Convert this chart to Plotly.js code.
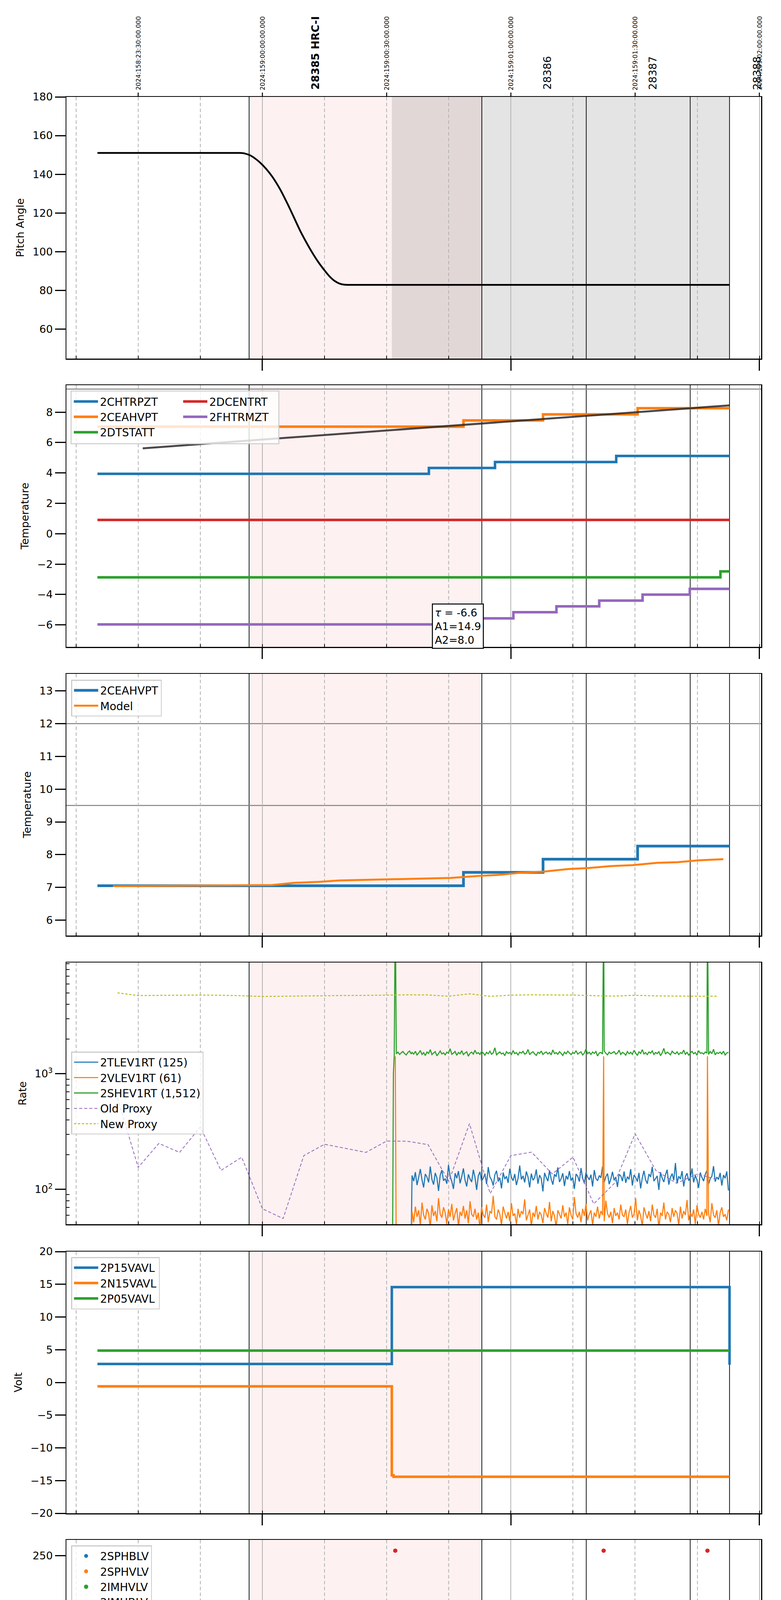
<!DOCTYPE html>
<html><head><meta charset="utf-8">
<script src="https://cdn.plot.ly/plotly-3.0.1.min.js"></script>
<style>html,body{margin:0;padding:0;background:#fff}#chart{width:2000px;height:6200px}</style>
</head><body><div id="chart"></div>
<script>
// ================= DATA (local time 2024-06-07, EDT) =================
const DAY = '2024-06-07 ';
const xRange = ['19:12:40', '22:00:25'];
const obsBoundaries = ['19:56:47', '20:52:59', '21:18:12', '21:43:18', '21:52:48'];
const pinkSpan = ['19:56:47', '20:52:59'];
const graySpan = ['20:31:15', '21:52:48'];
const obsLabels = ['<b>28385 HRC-I</b>', '28386', '28387', '28388'];
const obsLabelTimes = ['20:12:42', '21:08:42', '21:34:12', '21:59:24'];
const topTickTimes = ['19:30:00', '20:00:00', '20:30:00', '21:00:00', '21:30:00', '22:00:00'];
const topTickText = ['2024:158:23:30:00.000', '2024:159:00:00:00.000', '2024:159:00:30:00.000',
  '2024:159:01:00:00.000', '2024:159:01:30:00.000', '2024:159:02:00:00.000'];
const hourTicks = ['20:00:00', '21:00:00', '22:00:00'];
const hourText = ['20h', '21h', '22h'];
const minorLabelTimes = ['19:15:00', '19:30:00', '19:45:00', '20:15:00', '20:30:00', '20:45:00', '21:15:00', '21:30:00', '21:45:00'];
const minorLabelText = ['15', '30', '45', '15', '30', '45', '15', '30', '45'];
const xTitle = '2024-06-07 (159)';

// Panel 1: pitch angle
const pitchTime = ['19:20:10', '19:40:00', '19:52:00', '19:54:36', '19:55:48', '19:57:00', '19:58:12', '19:59:24', '20:00:54', '20:02:24', '20:04:12',
  '20:06:00', '20:07:30', '20:09:00', '20:10:30', '20:12:00', '20:13:30', '20:15:00', '20:16:12', '20:17:24', '20:18:36', '20:19:48',
  '20:25:00', '20:40:00', '21:52:48'];
const pitchVal = [151.0, 151.0, 151.0, 151.0, 150.7, 149.8, 148.2, 146.1, 142.8, 138.7, 132.5, 125.0, 118.2, 111.3, 105.2, 99.6, 94.6, 90.3,
  87.2, 84.9, 83.5, 82.9, 82.8, 82.8, 82.8];

// Panel 2: temperatures (step series)
const chtrpztTime = ['19:20:10', '20:40:12', '20:56:10', '21:25:26', '21:52:48'];
const chtrpztVal = [3.94, 4.33, 4.72, 5.12, 5.12];
const ceahvptTime = ['19:20:10', '20:48:33', '21:07:46', '21:30:36', '21:52:48'];
const ceahvptVal = [7.05, 7.46, 7.86, 8.26, 8.26];
const dtstattTime = ['19:20:10', '21:50:36', '21:52:48'];
const dtstattVal = [-2.87, -2.48, -2.48];
const dcentrtTime = ['19:20:10', '21:52:48'];
const dcentrtVal = [0.91, 0.91];
const fhtrmztTime = ['19:20:10', '20:50:06', '21:00:36', '21:11:00', '21:21:20', '21:31:48', '21:43:12', '21:52:48'];
const fhtrmztVal = [-5.97, -5.57, -5.17, -4.78, -4.40, -4.01, -3.63, -3.63];
const trendTime = ['19:31:06', '21:52:48'];
const trendVal = [5.62, 8.45];
const panel2Limit = 9.52;
const fitText = '<i>τ</i> = -6.6<br>A1=14.9<br>A2=8.0';

// Panel 3: 2CEAHVPT and model
const panel3Limits = [12.0, 9.5];
const modelTime = ['19:23:54', '19:56:54', '20:02:18', '20:07:42', '20:13:42', '20:18:30', '20:24:30', '20:30:30', '20:38:54', '20:45:30',
  '20:52:12', '20:57:00', '21:02:24', '21:07:48', '21:13:48', '21:18:36', '21:24:00', '21:29:24', '21:35:24', '21:40:12', '21:45:36', '21:51:18'];
const modelVal = [7.04, 7.06, 7.07, 7.14, 7.17, 7.21, 7.23, 7.25, 7.27, 7.29, 7.35, 7.38, 7.45, 7.48, 7.56, 7.59, 7.65, 7.68, 7.75, 7.77, 7.83, 7.86];

// Panel 4: rates (band sampled every 24 s from 20:36:08)
const rateBandStart = '20:36:08', rateBandStep = 24;
const tlevBand = [
  132,118,141,109,127,150,121,104,136,128,115,158,122,110,139,126,
  97,133,147,119,124,112,163,130,117,101,138,125,144,113,129,152,
  120,106,135,123,116,148,127,99,131,142,118,125,137,111,156,128,
  121,108,134,145,117,126,102,140,123,130,114,151,127,119,136,109,
  125,161,122,131,115,143,128,104,137,120,126,149,112,133,124,96,
  139,127,118,146,123,110,135,129,155,116,124,138,107,131,122,144,
  119,127,101,136,130,117,153,125,113,140,128,121,134,106,147,124,
  119,132,126,158,115,129,137,111,123,142,120,128,105,135,131,118,
  143,114,129,122,150,108,133,127,117,139,102,126,145,121,112,136,
  128,157,118,124,131,99,141,125,116,134,148,110,127,137,120,169,
  113,130,123,144,106,129,138,119,126,152,115,132,121,103,140,127,
  118,135,146,111,124,130,159,117,128,122,139,108,133,125,143,98];
const vlevBand = [
  64,52,71,58,66,49,77,60,55,68,62,47,73,59,65,53,
  84,61,57,70,63,50,67,58,75,54,62,69,48,64,59,72,
  56,66,51,79,61,58,68,55,63,46,70,60,57,74,52,65,
  62,88,58,55,67,61,49,71,63,56,64,53,76,59,62,50,
  68,57,65,61,82,54,60,67,48,63,58,72,55,64,60,51,
  69,62,57,78,53,65,59,47,66,61,56,73,58,63,50,70,
  60,55,86,62,57,64,52,68,59,75,54,61,66,49,63,58,
  71,56,65,60,53,80,62,57,64,51,69,59,63,55,74,60,
  58,67,50,63,72,57,61,84,54,66,59,48,70,62,56,65,
  53,74,60,57,68,46,63,59,77,55,64,61,52,69,58,66,
  62,49,71,56,65,60,81,54,63,58,67,50,73,61,57,64,
  55,68,59,62,52,76,60,57,66,48,63,70,58,61,54,67];
const shevBand = [
  1530,1480,1565,1455,1510,1590,1470,1525,1440,1545,1500,1620,1465,1515,1555,1430,
  1495,1575,1485,1520,1460,1540,1505,1650,1475,1510,1560,1445,1530,1490,1585,1465,
  1515,1550,1420,1505,1540,1480,1600,1495,1525,1470,1560,1510,1450,1535,1490,1570,
  1475,1520,1680,1460,1505,1545,1485,1515,1435,1555,1500,1530,1470,1590,1495,1525,
  1455,1540,1510,1565,1480,1505,1625,1465,1520,1550,1490,1445,1535,1500,1575,1470,
  1515,1545,1485,1530,1460,1610,1495,1525,1475,1555,1505,1440,1540,1490,1570,1515,
  1465,1530,1500,1585,1480,1520,1550,1455,1510,1640,1490,1535,1470,1545,1500,1560,
  1425,1515,1530,1485,1575,1505,1460,1540,1495,1525,1555,1480,1510,1600,1470,1530,
  1505,1450,1560,1490,1535,1475,1595,1515,1440,1550,1500,1620,1485,1525,1465,1545,
  1510,1580,1470,1530,1495,1555,1435,1520,1660,1480,1540,1505,1460,1570,1515,1490,
  1550,1465,1525,1500,1605,1475,1535,1450,1515,1565,1490,1530,1445,1585,1505,1520,
  1480,1545,1510,1470,1560,1495,1630,1460,1525,1500,1540,1485,1570,1455,1515,1535];
const tlevPreTime = ['20:35:50'];
const tlevPreVal = [20];
const vlevPreTime = ['20:32:05', '20:32:20', '20:35:50'];
const vlevPreVal = [1416, 20, 20];
const vlevSpikeTime = ['21:22:24', '21:47:28'];
const vlevSpikeVal = [1416, 1416];
const shevPreTime = ['20:31:24', '20:31:38', '20:31:50', '20:32:05', '20:32:20', '20:32:44', '20:33:08', '20:33:32', '20:33:56', '20:34:20', '20:34:44', '20:35:08', '20:35:32', '20:35:56'];
const shevPreVal = [20, 1000, 1450, 30000, 1490, 1540, 1470, 1520, 1560, 1495, 1455, 1530, 1575, 1485];
const shevSpikeTime = ['21:22:24', '21:47:28'];
const shevSpikeVal = [30000, 30000];
const proxyTime = ['19:25:00','19:30:00','19:35:00','19:40:00','19:45:00','19:50:00','19:55:00','20:00:00','20:05:00','20:10:00',
  '20:15:00','20:20:00','20:25:00','20:30:00','20:35:00','20:40:00','20:45:00','20:50:00','20:55:00','21:00:00',
  '21:05:00','21:10:00','21:15:00','21:20:00','21:25:00','21:30:00','21:35:00','21:40:00','21:45:00','21:50:00'];
const oldProxy = [620,155,250,209,347,146,190,68,56,196,246,227,209,262,261,244,117,371,92,196,210,136,190,75,113,303,146,113,136,121];
const newProxy = [5018,4751,4770,4786,4800,4780,4740,4665,4690,4720,4750,4760,4770,4800,4821,4810,4690,4920,4680,4790,
  4821,4810,4800,4740,4700,4780,4720,4700,4700,4690];

// Panel 5: voltages
const p15Time = ['19:20:10', '20:31:15', '21:52:36', '21:52:48'];
const p15Val = [2.82, 14.56, 14.56, 2.7];
const n15Time = ['19:20:10', '20:31:15', '20:31:40', '21:52:48'];
const n15Val = [-0.59, -14.2, -14.42, -14.42];
const p05Time = ['19:20:10', '21:52:48'];
const p05Val = [4.87, 4.87];

// Panel 6: HV monitor (band sampled every 32 s from 20:36:24)
const hvBandStart = '20:36:24', hvBandStep = 32;
const sphblvTime = [], sphblvVal = [];
const sphvlvTime = [], sphvlvVal = [];
const imhvlvBand = [
  79,79,79,79,79,79,79,79,79,79,79,79, 79,79,79,79,79,79,79,79,79,79,79,79,
  79,79,79,79,79,79,79,79,79,79,79,79, 79,79,79,79,79,79,79,79,79,79,79,79,
  79,79,79,79,79,79,79,79,79,79,79,79, 79,79,79,79,79,79,79,79,79,79,79,79,
  79,79,79,79,79,79,79,79,79,79,79,79, 79,79,79,79,79,79,79,79,79,79,79,79,
  79,79,79,79,79,79,79,79,79,79,79,79, 79,79,79,79,79,79,79,79,79,79,79,79,
  79,79,79,79,79,79,79,79,79,79,79,79, 79,79,79,79,79,79,79,79,79,79,79,79];
const imhblvBand = [
  86,86,86,86,86,86,86,86,86,86,86,86, 86,86,86,86,86,86,86,86,86,86,86,86,
  86,86,86,86,86,86,86,86,86,86,86,86, 86,86,86,86,86,86,86,86,86,86,86,86,
  86,86,86,86,86,86,86,86,86,86,86,86, 86,86,86,86,86,86,86,86,86,86,86,86,
  86,86,86,86,86,86,86,86,86,86,86,86, 86,86,86,86,86,86,86,86,86,86,86,86,
  86,86,86,86,86,86,86,86,86,86,86,86, 86,86,86,86,86,86,86,86,86,86,86,86,
  86,86,86,86,86,86,86,86,86,86,86,86, 86,86,86,86,86,86,86,86,86,86,86,86];
const imhvlvDecayTime = ['20:32:48', '20:33:10', '20:33:32', '20:33:54', '20:34:15', '20:34:36', '20:34:58', '20:35:20', '20:35:41', '20:36:10'];
const imhvlvDecayVal = [100, 97, 95, 92, 90, 88, 86, 84, 82, 79];
const imhblvDecayTime = ['20:32:05', '20:32:34', '20:32:41', '20:33:03', '20:33:17', '20:33:31', '20:33:46', '20:34:04', '20:34:22', '20:34:44', '20:35:05', '20:35:23', '20:35:41', '20:36:02', '21:22:24', '21:47:28'];
const imhblvDecayVal = [255, 127, 119, 105, 106, 103, 101, 99, 97, 95, 93, 91, 89, 87, 255, 255];
const hvSwapTime = ['20:55:02', '20:58:02', '21:00:18', '21:34:24', '21:35:07', '21:35:57', '21:38:00', '21:45:13', '21:48:35'];
const imhvlvSwapVal = [127, 127, 127, 127, 127, 127, 127, 127, 127];
const imhblvSwapVal = [79, 79, 79, 79, 79, 79, 79, 79, 79];

// Shared swap instants (panels 7, 8)
const swapTime = ['20:54:22','20:55:05','20:57:22','20:58:05','20:59:24','21:00:07','21:00:50','21:01:34','21:02:17','21:03:00',
  '21:23:36','21:26:00','21:27:34','21:30:00','21:33:36','21:35:07','21:36:00','21:38:00','21:39:12','21:40:12',
  '21:41:00','21:42:00','21:45:12','21:48:36','21:49:30'];
const eventTime = ['20:32:05', '21:22:24', '21:47:28'];

// Panel 7: detector temps
const spinatmTime = ['20:32:18', '21:52:48'];
const spinatmVal = [2.66, 2.66];
const spinatmSwap = [-3,-3,-3,-3,-3,-3,-3,-3,-3,-3, -3,-3,-3,-3,-3,-3,-3,-3,-3,-3, -3,-3,-3,-3,-3];
const sphvatmTime = ['20:31:15', '20:36:30', '20:59:00', '21:29:24', '21:52:48'];
const sphvatmVal = [15.38, 15.0, 15.3, 15.64, 15.64];
const sphvatmSwap = [8.62,8.62,8.62,8.62,8.62,8.62,8.62,8.62,8.62,8.95, 9.26,9.26,9.26,9.26,9.26,9.26,9.26,9.26,9.26,9.26, 9.26,9.26,9.62,9.62,9.62];
const sphvatmDropTime = ['21:34:24'];
const sphvatmDropVal = [-3];
const iminatmTime = ['20:32:18', '21:00:36', '21:52:48'];
const iminatmVal = [0.35, 0.81, 0.81];
const iminatmSwap = [2.66,2.66,2.66,2.66,2.66,2.66,2.66,2.66,2.66,2.66, 2.66,2.66,2.66,2.66,2.66,2.66,2.66,2.66,2.66,2.66, 2.66,2.66,2.66,2.66,2.66];
const imhvatmTime = ['20:31:24', '20:31:38', '20:32:18', '20:36:30', '20:45:12', '20:51:54', '20:58:48', '21:06:48', '21:15:36', '21:25:48', '21:37:48', '21:52:48'];
const imhvatmVal = [-3, 14.68, 14.3, 14.65, 15.03, 15.34, 15.66, 16.0, 16.36, 16.74, 17.08, 17.08];
const imhvatmSwap = [15.0,15.0,15.0,15.0,15.0,15.0,15.0,15.0,15.0,15.0, 15.33,15.33,15.33,15.64,15.64,15.64,15.64,15.64,15.64,15.64, 15.64,15.64,15.64,15.64,15.64];
const imhvatmEventVal = [-3, -3, -3];

// Panel 8: FEA temps
const fradpytTime = ['19:20:10', '20:03:45', '20:09:17', '20:22:29', '20:51:04', '21:03:18', '21:14:58', '21:27:12', '21:39:49', '21:52:48'];
const fradpytVal = [-8.0, -7.59, -8.0, -8.41, -8.0, -7.59, -7.2, -6.78, -6.38, -6.38];
const fepratmTime = ['20:31:24', '20:31:38', '20:34:01', '20:36:46', '20:39:48', '20:43:24', '20:48:12', '20:53:00', '21:00:00', '21:10:30', '21:20:06', '21:30:00', '21:40:12', '21:52:48'];
const fepratmVal = [-7.1, -6.41, -6.03, -5.63, -5.2, -4.79, -4.37, -3.95, -3.53, -3.11, -2.69, -2.26, -1.84, -1.84];
const fepratmSwap = [-6.07,-6.07,-6.07,-6.07,-6.07,-6.07,-6.07,-6.07,-6.07,-6.07, -6.07,-6.07,-6.07,-6.07,-6.07,-6.07,-6.07,-6.07,-6.07,-6.07, -6.07,-6.07,-6.07,-6.07,-6.07];
const fe00atmTime = ['20:31:24', '20:31:38', '20:42:30', '20:49:42', '20:56:06', '21:03:36', '21:10:12', '21:18:00', '21:25:48', '21:34:12', '21:42:18', '21:51:12', '21:52:48'];
const fe00atmVal = [-10, -7.12, -6.76, -6.39, -6.03, -5.70, -5.35, -5.0, -4.64, -4.31, -3.98, -3.63, -3.63];
const fe00atmSwap = [0.5,0.5,0.5,0.5,0.5,0.5,0.5,0.5,0.5,0.5, 0.5,0.5,0.5,0.5,0.5,0.5,0.5,0.5,0.5,0.5, 0.5,0.5,0.5,0.5,0.5];
const fe00atmDropTime = ['20:32:05', '21:22:24', '21:34:24', '21:47:28'];
const fe00atmDropVal = [-10, -10, -10, -10];

// ================= HELPERS =================
const C = {blue:'#1f77b4', orange:'#ff7f0e', green:'#2ca02c', red:'#d62728', purple:'#9467bd', olive:'#bcbd22'};
const T = s => DAY + s;
const TT = a => a.map(T);
const toSec = s => { const p = s.split(':').map(Number); return p[0]*3600 + p[1]*60 + p[2]; };
const toHMS = sec => [Math.floor(sec/3600), Math.floor(sec%3600/60), sec%60].map(v => String(v).padStart(2,'0')).join(':');
function cadence(start, step, n) { const s0 = toSec(start); const out = []; for (let i = 0; i < n; i++) out.push(toHMS(s0 + i*step)); return out; }
function merge(...pairs) {
  const pts = [];
  pairs.forEach(([ts, vs]) => ts.forEach((t, i) => pts.push([toSec(t), vs[i]])));
  pts.sort((a, b) => a[0] - b[0]);
  return {x: pts.map(p => DAY + toHMS(p[0])), y: pts.map(p => p[1])};
}
function stepAt(ts, vs, sec) { let v = vs[0]; for (let i = 0; i < ts.length; i++) if (toSec(ts[i]) <= sec) v = vs[i]; return v; }
function withSpikes(stepT, stepV, sets, hold) {
  const pts = stepT.map((t, i) => [toSec(t), stepV[i]]);
  const endSec = toSec(stepT[stepT.length-1]);
  sets.forEach(([ts, vs]) => ts.forEach((t, i) => {
    const s = toSec(t);
    pts.push([s, vs[i]]);
    if (s + hold < endSec) pts.push([s + hold, stepAt(stepT, stepV, s + hold)]);
  }));
  pts.sort((a, b) => a[0] - b[0]);
  return {x: pts.map(p => DAY + toHMS(p[0])), y: pts.map(p => p[1])};
}

// ================= LAYOUT GEOMETRY =================
const W = 2000, H = 6200;
const XD = [170/W, 1949/W];
const panelTop = [248, 986, 1725, 2464, 3204, 3942, 4681, 5421];
const panelH = 670;
const yDom = i => [1 - (panelTop[i-1] + panelH)/H, 1 - panelTop[i-1]/H];
const xid = i => i === 1 ? 'x' : 'x' + i;
const yid = i => i === 1 ? 'y' : 'y' + i;

function line(x, y, name, color, width, extra) {
  return Object.assign({type:'scatter', mode:'lines', x, y, name, line:{color, width, shape:'hv'}}, extra || {});
}

const traces = [];
// Panel 1
traces.push({type:'scatter', mode:'lines', x:TT(pitchTime), y:pitchVal, xaxis:'x', yaxis:'y', showlegend:false, line:{color:'#000', width:4.5, shape:'spline', smoothing:0.6}});
// Panel 2
traces.push(line(TT(chtrpztTime), chtrpztVal, '2CHTRPZT', C.blue, 6.5, {xaxis:'x2', yaxis:'y2', legend:'legend'}));
traces.push(line(TT(ceahvptTime), ceahvptVal, '2CEAHVPT', C.orange, 6.5, {xaxis:'x2', yaxis:'y2', legend:'legend'}));
traces.push(line(TT(dtstattTime), dtstattVal, '2DTSTATT', C.green, 6.5, {xaxis:'x2', yaxis:'y2', legend:'legend'}));
traces.push(line(TT(dcentrtTime), dcentrtVal, '2DCENTRT', C.red, 6.5, {xaxis:'x2', yaxis:'y2', legend:'legend2'}));
traces.push(line(TT(fhtrmztTime), fhtrmztVal, '2FHTRMZT', C.purple, 6.5, {xaxis:'x2', yaxis:'y2', legend:'legend2'}));
traces.push({type:'scatter', mode:'lines', x:TT(trendTime), y:trendVal, xaxis:'x2', yaxis:'y2', showlegend:false, line:{color:'rgba(45,40,40,0.85)', width:5}});
// Panel 3
traces.push(line(TT(ceahvptTime), ceahvptVal, '2CEAHVPT', C.blue, 7, {xaxis:'x3', yaxis:'y3', legend:'legend3'}));
traces.push({type:'scatter', mode:'lines', x:TT(modelTime), y:modelVal, name:'Model', xaxis:'x3', yaxis:'y3', legend:'legend3', line:{color:C.orange, width:5}});
// Panel 4
const rateBandTime = cadence(rateBandStart, rateBandStep, tlevBand.length);
const tlev = merge([tlevPreTime, tlevPreVal], [rateBandTime, tlevBand]);
const vlev = merge([vlevPreTime, vlevPreVal], [rateBandTime, vlevBand], [vlevSpikeTime, vlevSpikeVal]);
const shev = merge([shevPreTime, shevPreVal], [rateBandTime, shevBand], [shevSpikeTime, shevSpikeVal]);
const rl = {xaxis:'x4', yaxis:'y4', legend:'legend4'};
traces.push(Object.assign({type:'scatter', mode:'lines', x:tlev.x, y:tlev.y, name:'2TLEV1RT (125)', line:{color:C.blue, width:2.8, simplify:false}}, rl));
traces.push(Object.assign({type:'scatter', mode:'lines', x:vlev.x, y:vlev.y, name:'2VLEV1RT (61)', line:{color:C.orange, width:2.8, simplify:false}}, rl));
traces.push(Object.assign({type:'scatter', mode:'lines', x:shev.x, y:shev.y, name:'2SHEV1RT (1,512)', line:{color:C.green, width:2.8, simplify:false}}, rl));
traces.push(Object.assign({type:'scatter', mode:'lines', x:TT(proxyTime), y:oldProxy, name:'Old Proxy', line:{color:C.purple, width:2, dash:'8px,5px'}}, rl));
traces.push(Object.assign({type:'scatter', mode:'lines', x:TT(proxyTime), y:newProxy, name:'New Proxy', line:{color:C.olive, width:2.5, dash:'6px,4px'}}, rl));
// Panel 5
traces.push(line(TT(p15Time), p15Val, '2P15VAVL', C.blue, 6.5, {xaxis:'x5', yaxis:'y5', legend:'legend5'}));
traces.push(line(TT(n15Time), n15Val, '2N15VAVL', C.orange, 6.5, {xaxis:'x5', yaxis:'y5', legend:'legend5'}));
traces.push(line(TT(p05Time), p05Val, '2P05VAVL', C.green, 6.5, {xaxis:'x5', yaxis:'y5', legend:'legend5'}));
// Panel 6
const hvBandTime = cadence(hvBandStart, hvBandStep, imhvlvBand.length);
const hvl = {xaxis:'x6', yaxis:'y6', legend:'legend6', type:'scatter', mode:'markers'};
traces.push(Object.assign({x:sphblvTime.length ? TT(sphblvTime) : [null], y:sphblvVal.length ? sphblvVal : [null], name:'2SPHBLV', marker:{color:C.blue, size:10}}, hvl));
traces.push(Object.assign({x:sphvlvTime.length ? TT(sphvlvTime) : [null], y:sphvlvVal.length ? sphvlvVal : [null], name:'2SPHVLV', marker:{color:C.orange, size:10}}, hvl));
traces.push(Object.assign({x:TT(imhvlvDecayTime.concat(hvBandTime, hvSwapTime)), y:imhvlvDecayVal.concat(imhvlvBand, imhvlvSwapVal), name:'2IMHVLV', marker:{color:C.green, size:11}}, hvl));
traces.push(Object.assign({x:TT(imhblvDecayTime.concat(hvBandTime, hvSwapTime)), y:imhblvDecayVal.concat(imhblvBand, imhblvSwapVal), name:'2IMHBLV', marker:{color:C.red, size:11}}, hvl));
// Panel 7
const HOLD = 12;
const spin = withSpikes(spinatmTime, spinatmVal, [[swapTime, spinatmSwap]], HOLD);
const sphv = withSpikes(sphvatmTime, sphvatmVal, [[swapTime, sphvatmSwap], [sphvatmDropTime, sphvatmDropVal]], HOLD);
const imin = withSpikes(iminatmTime, iminatmVal, [[swapTime, iminatmSwap], [sphvatmDropTime, sphvatmDropVal]], HOLD);
const imhv = withSpikes(imhvatmTime, imhvatmVal, [[swapTime, imhvatmSwap], [eventTime, imhvatmEventVal]], HOLD);
traces.push(line(spin.x, spin.y, '2SPINATM', C.blue, 6.5, {xaxis:'x7', yaxis:'y7', legend:'legend7'}));
traces.push(line(sphv.x, sphv.y, '2SPHVATM', C.orange, 6.5, {xaxis:'x7', yaxis:'y7', legend:'legend7'}));
traces.push(line(imin.x, imin.y, '2IMINATM', C.green, 6.5, {xaxis:'x7', yaxis:'y7', legend:'legend7'}));
traces.push(line(imhv.x, imhv.y, '2IMHVATM', C.red, 6.5, {xaxis:'x7', yaxis:'y7', legend:'legend7'}));
// Panel 8
const fepr = withSpikes(fepratmTime, fepratmVal, [[swapTime, fepratmSwap]], HOLD);
const fe00 = withSpikes(fe00atmTime, fe00atmVal, [[swapTime, fe00atmSwap], [fe00atmDropTime, fe00atmDropVal]], HOLD);
traces.push(line(TT(fhtrmztTime), fhtrmztVal, '2FHTRMZT', C.blue, 6.5, {xaxis:'x8', yaxis:'y8', legend:'legend8'}));
traces.push(line(TT(fradpytTime), fradpytVal, '2FRADPYT', C.orange, 6.5, {xaxis:'x8', yaxis:'y8', legend:'legend8'}));
traces.push(line(fepr.x, fepr.y, '2FEPRATM', C.green, 6.5, {xaxis:'x8', yaxis:'y8', legend:'legend8'}));
traces.push(line(fe00.x, fe00.y, '2FE00ATM', C.red, 6.5, {xaxis:'x8', yaxis:'y8', legend:'legend8'}));

// ================= AXES =================
const layout = {
  width: W, height: H, margin: {l:0, r:0, t:0, b:0}, paper_bgcolor:'#fff', plot_bgcolor:'#fff',
  font: {family:'DejaVu Sans, sans-serif', size:27, color:'#000'}, showlegend:true,
  shapes: [], annotations: []
};
function xAxis(i) {
  return {domain:XD, range:TT(xRange), type:'date', anchor:yid(i), tickmode:'array', tickvals:TT(hourTicks), ticktext:hourText,
    showticklabels: i === 8, ticks:'outside', ticklen:28, tickwidth:3, tickcolor:'#000', tickfont:{size:27},
    showgrid:true, gridcolor:'#b3b3b3', gridwidth:2,
    minor:{tickmode:'linear', tick0:T('19:00:00'), dtick:900000, ticks:'inside', ticklen:7, tickwidth:2, tickcolor:'#000',
      showgrid:true, gridcolor:'#b3b3b3', gridwidth:2, griddash:'9px,6px'},
    showline:true, linecolor:'#000', linewidth:2.5, mirror:true, zeroline:false, automargin:false, fixedrange:true};
}
function yAxis(i, range, tickvals, title, extra) {
  return Object.assign({domain:yDom(i), range, anchor:xid(i), tickmode:'array', tickvals, ticks:'outside', ticklen:27, tickwidth:3,
    tickcolor:'#000', tickfont:{size:27}, showgrid:false, zeroline:false, showline:true, linecolor:'#000', linewidth:2.5, mirror:true,
    title:{text:title, font:{size:27}, standoff:14}, automargin:false, fixedrange:true}, extra || {});
}
for (let i = 1; i <= 8; i++) layout[i === 1 ? 'xaxis' : 'xaxis' + i] = xAxis(i);
layout.xaxis8.title = {text:xTitle, font:{size:30}, standoff:12};
layout.yaxis = yAxis(1, [44.7, 180], [60, 80, 100, 120, 140, 160, 180], 'Pitch Angle');
layout.yaxis2 = yAxis(2, [-7.45, 9.78], [-6, -4, -2, 0, 2, 4, 6, 8], 'Temperature');
layout.yaxis3 = yAxis(3, [5.53, 13.52], [6, 7, 8, 9, 10, 11, 12, 13], 'Temperature');
layout.yaxis4 = yAxis(4, [Math.log10(50), Math.log10(9180)], [100, 1000], 'Rate', {type:'log', ticktext:['10<sup>2</sup>', '10<sup>3</sup>'],
  minor:{tickmode:'array', tickvals:[60,70,80,90,200,300,400,500,600,700,800,900,2000,3000,4000,5000,6000,7000,8000,9000], ticks:'inside', ticklen:8, tickwidth:2, tickcolor:'#000'}});
layout.yaxis5 = yAxis(5, [-20, 20], [-20, -15, -10, -5, 0, 5, 10, 15, 20], 'Volt');
layout.yaxis6 = yAxis(6, [0, 266], [0, 50, 100, 150, 200, 250], 'HV Monitor');
layout.yaxis7 = yAxis(7, [-1.16, 18.21], [0, 2.5, 5, 7.5, 10, 12.5, 15, 17.5], 'Detector Temp', {tickformat:'.1f'});
layout.yaxis8 = yAxis(8, [-9.49, -0.77], [-9, -8, -7, -6, -5, -4, -3, -2, -1], 'FEA Temp');

// ================= SHAPES / ANNOTATIONS =================
for (let i = 1; i <= 8; i++) {
  layout.shapes.push({type:'rect', xref:xid(i), yref:yid(i) + ' domain', x0:T(pinkSpan[0]), x1:T(pinkSpan[1]), y0:0, y1:1,
    fillcolor:'rgba(220,20,20,0.06)', line:{width:0}, layer:'below'});
  if (i === 1) layout.shapes.push({type:'rect', xref:'x', yref:'y domain', x0:T(graySpan[0]), x1:T(graySpan[1]), y0:0, y1:1,
    fillcolor:'rgba(0,0,0,0.105)', line:{width:0}, layer:'below'});
  obsBoundaries.forEach(t => layout.shapes.push({type:'line', xref:xid(i), yref:yid(i) + ' domain', x0:T(t), x1:T(t), y0:0, y1:1,
    line:{color:'#000', width:1.8}, layer:'below'}));
}
layout.shapes.push({type:'line', xref:'x2 domain', yref:'y2', x0:0, x1:1, y0:panel2Limit, y1:panel2Limit, line:{color:'#808080', width:2.5}, layer:'below'});
panel3Limits.forEach(v => layout.shapes.push({type:'line', xref:'x3 domain', yref:'y3', x0:0, x1:1, y0:v, y1:v, line:{color:'#808080', width:2.5}, layer:'below'}));
// top ticks (UTC) on panel 1
topTickTimes.forEach(t => layout.shapes.push({type:'line', xref:'x', yref:'paper', x0:T(t), x1:T(t), y0:1 - 248/H, y1:1 - 237/H,
  line:{color:'#000', width:2.5}, layer:'above'}));
// combined two-column legend box of panel 2
layout.shapes.push({type:'rect', xref:'paper', yref:'paper', x0:182/W, x1:714/W, y0:1 - 1136/H, y1:1 - 1001/H,
  fillcolor:'rgba(255,255,255,0.8)', line:{color:'#cccccc', width:2.5}, layer:'above'});

topTickText.forEach((txt, k) => layout.annotations.push({xref:'x', yref:'paper', x:T(topTickTimes[k]), y:1 - 233/H, text:txt,
  textangle:-90, xanchor:'center', yanchor:'bottom', showarrow:false, font:{size:16, color:'#000'}}));
obsLabels.forEach((txt, k) => layout.annotations.push({xref:'x', yref:'paper', x:T(obsLabelTimes[k]), y:1 - 232/H, text:txt,
  textangle:-90, xanchor:'center', yanchor:'bottom', showarrow:false, font:{size:27, color:'#000'}}));
minorLabelTimes.forEach((t, k) => layout.annotations.push({xref:'x8', yref:'paper', x:T(t), y:1 - 6095/H, text:minorLabelText[k],
  xanchor:'center', yanchor:'top', showarrow:false, font:{size:17, color:'#000'}}));
layout.annotations.push({xref:'x2', yref:'y2 domain', x:T('20:40:54'), y:0.165, xanchor:'left', yanchor:'top', text:fitText, align:'left',
  showarrow:false, font:{size:27, color:'#000'}, bgcolor:'#fff', bordercolor:'#000', borderwidth:2.5, borderpad:5});

// ================= LEGENDS =================
function leg(xpx, ypx, box) {
  return {x:xpx/W, y:1 - ypx/H, xanchor:'left', yanchor:'top', xref:'paper', yref:'paper',
    bgcolor: box ? 'rgba(255,255,255,0.8)' : 'rgba(0,0,0,0)', bordercolor:'#cccccc', borderwidth: box ? 2.5 : 0,
    font:{size:28, color:'#000'}, itemwidth:62, tracegroupgap:0, traceorder:'normal'};
}
layout.legend = leg(184, 1003, false);
layout.legend2 = leg(464, 1003, false);
layout.legend3 = leg(182, 1740, true);
layout.legend4 = leg(182, 2692, true);
layout.legend5 = leg(182, 3218, true);
layout.legend6 = leg(182, 3956, true);
layout.legend7 = leg(182, 4695, true);
layout.legend8 = leg(182, 5434, true);

Plotly.newPlot('chart', traces, layout, {displayModeBar:false, staticPlot:true});
</script></body></html>
